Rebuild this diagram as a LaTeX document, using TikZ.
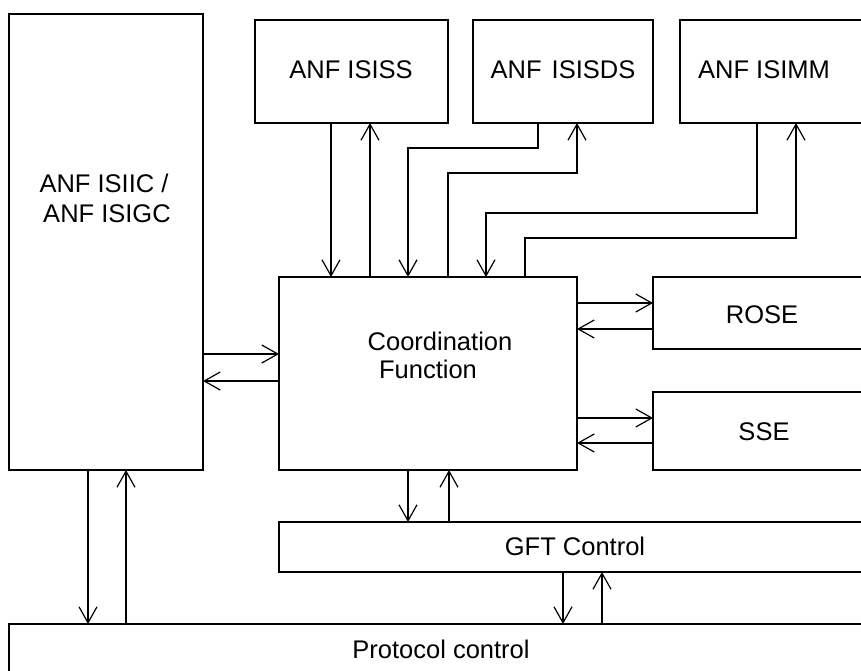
\documentclass[tikz,border=0pt]{standalone}
\usepackage{fontspec}
\setmainfont{Liberation Sans}
\usetikzlibrary{arrows.meta}
\begin{document}
\begin{tikzpicture}[x=1pt,y=-1pt,
  box/.style={draw,line width=1.2pt,inner sep=0pt,outer sep=0pt,anchor=north west},
  lbl/.style={anchor=base,inner sep=0pt,font=\fontsize{25.5}{29}\selectfont},
  conn/.style={line width=1.2pt,-{Straight Barb[length=16pt,width=18pt,line width=1.2pt]}},
  line join=miter]
\useasboundingbox (0,0) rectangle (861,671);
% boxes
\node[box,minimum width=194pt,minimum height=456pt] (isiic) at (9,14) {};
\node[box,minimum width=193pt,minimum height=103pt] (isiss) at (255,20) {};
\node[box,minimum width=180pt,minimum height=103pt] (isisds) at (473,20) {};
\node[box,minimum width=200pt,minimum height=103pt] (isimm) at (680,20) {};
\node[box,minimum width=298pt,minimum height=193pt] (coord) at (279,277) {};
\node[box,minimum width=220pt,minimum height=72pt] (rose) at (653,277) {};
\node[box,minimum width=220pt,minimum height=78pt] (sse) at (653,392) {};
\node[box,minimum width=600pt,minimum height=50pt] (gft) at (279,522) {};
\node[box,minimum width=880pt,minimum height=70pt] (proto) at (9,624) {};
% labels
\node[lbl] (t-isiic1) at (104,192) {ANF ISIIC /};
\node[lbl] (t-isiic2) at (107,222) {ANF ISIGC};
\node[lbl] (t-isiss) at (351,79) {ANF ISISS};
\node[lbl] (t-isisds) at (563,79) {ANF\hspace{3pt} ISISDS};
\node[lbl] (t-isimm) at (764,79) {ANF ISIMM};
\node[lbl] (t-coord1) at (440,350) {Coordination};
\node[lbl] (t-coord2) at (428,378) {Function};
\node[lbl] (t-rose) at (762,323) {ROSE};
\node[lbl] (t-sse) at (764,440) {SSE};
\node[lbl] (t-gft) at (575,555) {GFT Control};
\node[lbl] (t-proto) at (441,658) {Protocol control};
% top connectors
\draw[conn] (isiss.south -| 331,0) -- (coord.north -| 331,0);
\draw[conn] (coord.north -| 370,0) -- (isiss.south -| 370,0);
\draw[conn] (isisds.south -| 538,0) |- (408,148) -- (coord.north -| 408,0);
\draw[conn] (coord.north -| 448,0) |- (577,173) -- (isisds.south -| 577,0);
\draw[conn] (isimm.south -| 757,0) |- (486,213) -- (coord.north -| 486,0);
\draw[conn] (coord.north -| 525,0) |- (796,238) -- (isimm.south -| 796,0);
% side connectors
\draw[conn] (coord.east |- 0,303) -- (rose.west |- 0,303);
\draw[conn] (rose.west |- 0,329) -- (coord.east |- 0,329);
\draw[conn] (coord.east |- 0,418) -- (sse.west |- 0,418);
\draw[conn] (sse.west |- 0,443) -- (coord.east |- 0,443);
\draw[conn] (isiic.east |- 0,354) -- (coord.west |- 0,354);
\draw[conn] (coord.west |- 0,381) -- (isiic.east |- 0,381);
% bottom connectors
\draw[conn] (coord.south -| 408,0) -- (gft.north -| 408,0);
\draw[conn] (gft.north -| 449,0) -- (coord.south -| 449,0);
\draw[conn] (gft.south -| 563,0) -- (proto.north -| 563,0);
\draw[conn] (proto.north -| 602,0) -- (gft.south -| 602,0);
\draw[conn] (isiic.south -| 88,0) -- (proto.north -| 88,0);
\draw[conn] (proto.north -| 126,0) -- (isiic.south -| 126,0);
\end{tikzpicture}
\end{document}
